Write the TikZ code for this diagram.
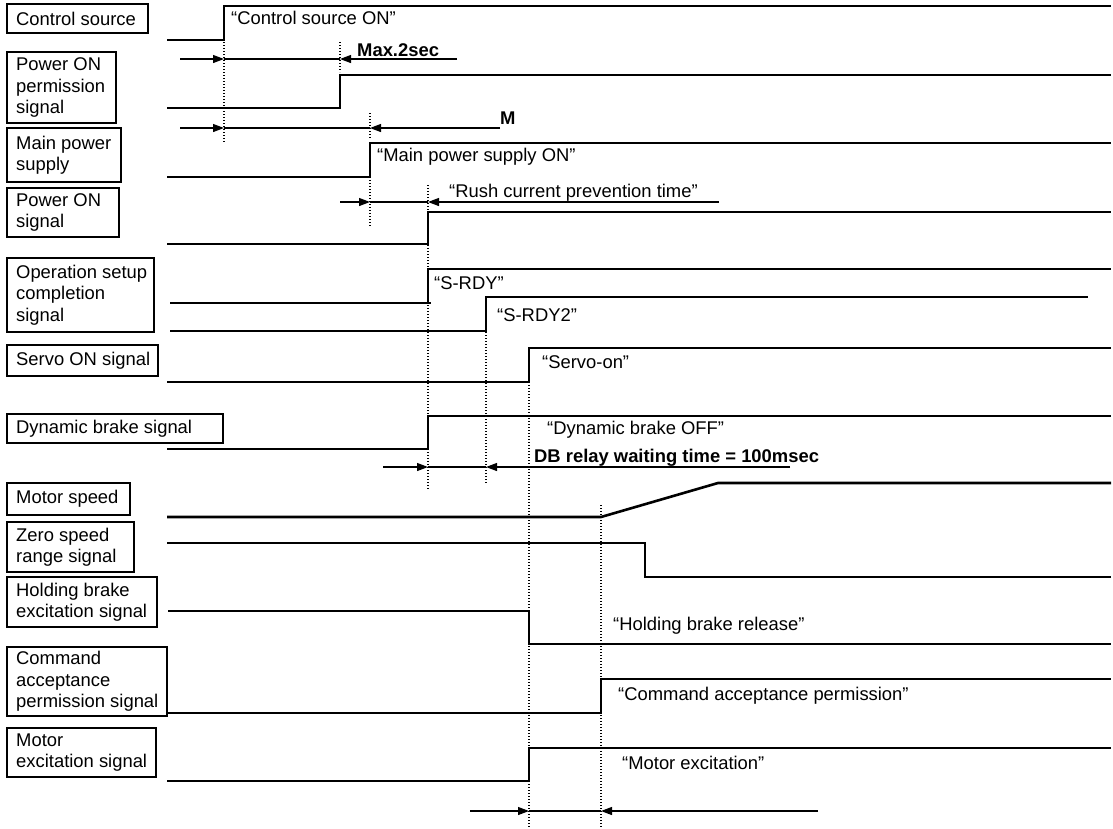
\documentclass[tikz,border=0pt]{standalone}
\usepackage{fontspec}
\setmainfont{Liberation Sans}
\usetikzlibrary{arrows.meta}
\newcommand\lblfont{\fontsize{18.4}{21.5}\selectfont}
\begin{document}
\begin{tikzpicture}[x=1pt,y=-1pt,
  box/.style={draw, line width=1.6pt},
  lbl/.style={anchor=west, align=left, inner xsep=9pt, inner ysep=0pt, font=\lblfont},
  sig/.style={line width=2.6pt, line join=miter},
  guide/.style={line width=1.3pt, dash pattern=on 1.3pt off 1.7pt},
  dimline/.style={line width=1.2pt},
  dim/.style={line width=1.2pt, -{Triangle[length=11pt,width=8pt]}},
  note/.style={anchor=west, inner sep=0pt, font=\lblfont, text height=13.2pt, text depth=0pt},
  bnote/.style={note, font=\lblfont\bfseries}]
\path[use as bounding box, fill=white] (0,0) rectangle (1113,828);

% label boxes
\draw[box] (7,4) rectangle (148,33);
\node[lbl] (l1) at (7,18.5) {Control source};
\draw[box] (7,52) rectangle (116,123);
\node[lbl] (l2) at (7,87.5) {Power ON\\permission\\signal};
\draw[box] (7,128) rectangle (121,182);
\node[lbl] (l3) at (7,155) {Main power\\supply};
\draw[box] (7,188) rectangle (119,237);
\node[lbl] (l4) at (7,212.5) {Power ON\\signal};
\draw[box] (7,258) rectangle (154,332);
\node[lbl] (l5) at (7,295) {Operation setup\\completion\\signal};
\draw[box] (7,345) rectangle (158,376);
\node[lbl] (l6) at (7,360.5) {Servo ON signal};
\draw[box] (7,414) rectangle (223,443);
\node[lbl] (l7) at (7,428.5) {Dynamic brake signal};
\draw[box] (7,483) rectangle (130,515);
\node[lbl] (l8) at (7,499) {Motor speed};
\draw[box] (7,522) rectangle (134,572);
\node[lbl] (l9) at (7,547) {Zero speed\\range signal};
\draw[box] (7,577) rectangle (157,627);
\node[lbl] (l10) at (7,602) {Holding brake\\excitation signal};
\draw[box] (7,647) rectangle (167,716);
\node[lbl] (l11) at (7,681.5) {Command\\acceptance\\permission signal};
\draw[box] (7,728) rectangle (156,777);
\node[lbl] (l12) at (7,752.5) {Motor\\excitation signal};

% dotted guides
\draw[guide] (224,42) -- (224,142);
\draw[guide] (340,42) -- (340,72);
\draw[guide] (370,113) -- (370,138);
\draw[guide] (370,180) -- (370,227);
\draw[guide] (428,185) -- (428,490);
\draw[guide] (486,332) -- (486,484);
\draw[guide] (529,382) -- (529,827);
\draw[guide] (601,505) -- (601,827);

% signals
\draw[sig] (167,40) -- (224,40) -- (224,6) -- (1111,6);
\draw[sig] (167,108) -- (340,108) -- (340,75) -- (1111,75);
\draw[sig] (167,177) -- (370,177) -- (370,143) -- (1111,143);
\draw[sig] (167,244) -- (428,244) -- (428,212) -- (1111,212);
\draw[sig] (170,303) -- (431,303);
\draw[sig] (428,303) -- (428,269) -- (1111,269);
\draw[sig] (170,331) -- (486,331) -- (486,297) -- (1088,297);
\draw[sig] (167,382) -- (529,382) -- (529,348) -- (1111,348);
\draw[sig] (167,449) -- (428,449) -- (428,416) -- (1111,416);
\draw[sig] (167,517) -- (601,517) -- (718,483) -- (1111,483);
\draw[sig] (167,543) -- (645,543) -- (645,577) -- (1111,577);
\draw[sig] (168,611) -- (529,611) -- (529,644) -- (1111,644);
\draw[sig] (167,713) -- (601,713) -- (601,679) -- (1111,679);
\draw[sig] (167,781) -- (529,781) -- (529,748) -- (1111,748);

% dimension arrows
\draw[dim] (180,59) -- (224,59);
\draw[dimline] (224,59) -- (340,59);
\draw[dim] (457,59) -- (340,59);
\draw[dim] (180,128) -- (224,128);
\draw[dimline] (224,128) -- (370,128);
\draw[dim] (500,128) -- (370,128);
\draw[dim] (340,202) -- (370,202);
\draw[dimline] (370,202) -- (428,202);
\draw[dim] (719,202) -- (428,202);
\draw[dim] (383,467) -- (428,467);
\draw[dimline] (428,467) -- (486,467);
\draw[dim] (790,467) -- (486,467);
\draw[dim] (470,811) -- (529,811);
\draw[dimline] (529,811) -- (601,811);
\draw[dim] (818,811) -- (601,811);

% annotations
\node[note] (t1) at (231,18) {“Control source ON”};
\node[bnote] (t2) at (357,50) {Max.2sec};
\node[bnote] (t3) at (500,118) {M};
\node[note] (t4) at (377,155) {“Main power supply ON”};
\node[note] (t5) at (449,191) {“Rush current prevention time”};
\node[note] (t6) at (434,283) {“S-RDY”};
\node[note] (t7) at (497,315) {“S-RDY2”};
\node[note] (t8) at (542,362) {“Servo-on”};
\node[note] (t9) at (547,428) {“Dynamic brake OFF”};
\node[bnote] (t10) at (534,456) {DB relay waiting time = 100msec};
\node[note] (t11) at (613,624) {“Holding brake release”};
\node[note] (t12) at (618,694) {“Command acceptance permission”};
\node[note] (t13) at (622,763) {“Motor excitation”};
\end{tikzpicture}
\end{document}
